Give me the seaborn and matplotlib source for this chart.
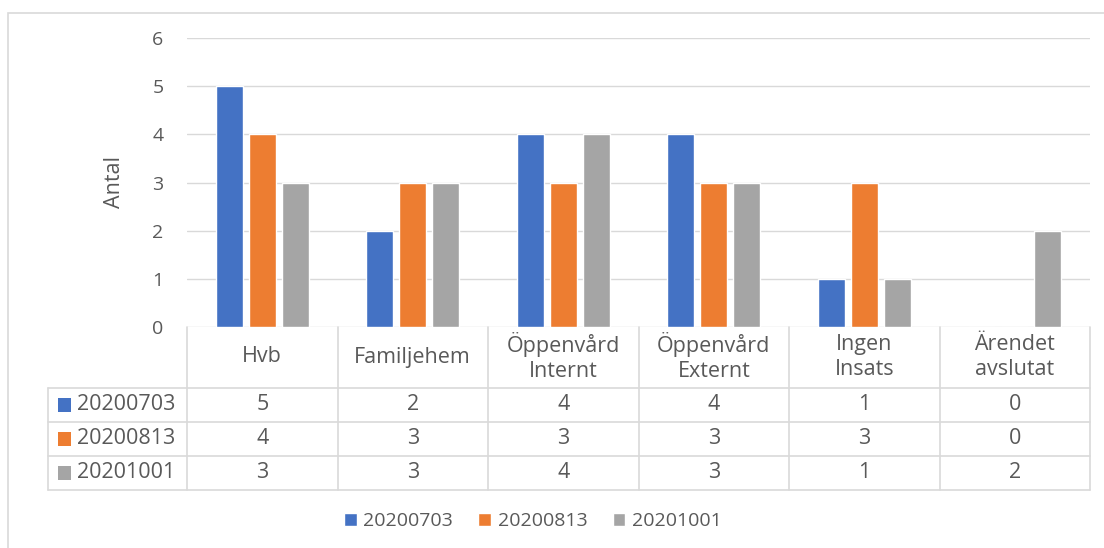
import matplotlib
matplotlib.use("Agg")
import matplotlib.pyplot as plt
import seaborn as sns
import pandas as pd
from matplotlib.lines import Line2D
from matplotlib.patches import Rectangle

categories = ["Hvb", "Familjehem", "Öppenvård\nInternt", "Öppenvård\nExternt", "Ingen\nInsats", "Ärendet\navslutat"]
series_names = ["20200703", "20200813", "20201001"]
s20200703 = [5, 2, 4, 4, 1, 0]
s20200813 = [4, 3, 3, 3, 3, 0]
s20201001 = [3, 3, 4, 3, 1, 2]
series_values = [s20200703, s20200813, s20201001]
colors = ["#4472C4", "#ED7D31", "#A5A5A5"]
yticks = [0, 1, 2, 3, 4, 5, 6]

rows = []
for name, vals in zip(series_names, series_values):
    for c, v in zip(categories, vals):
        rows.append({"Kategori": c, "Serie": name, "Antal": v})
df = pd.DataFrame(rows)

sns.set_theme(style="white")
plt.rcParams["font.family"] = ["Open Sans", "DejaVu Sans"]
TXT = "#595959"
GRID = "#D9D9D9"
FS_TICK = 14
FS_TAB = 15.5
FS_LEG = 14
FS_LAB = 15.5

W, H = 1104, 548
fig = plt.figure(figsize=(W / 100, H / 100), dpi=100)

def fx(px):
    return px / W

def fy(py):
    return 1 - py / H

L, R, T, B = 187, 1090, 38, 327
ax = fig.add_axes([fx(L), fy(B), fx(R) - fx(L), fy(T) - fy(B)])
sns.barplot(data=df, x="Kategori", y="Antal", hue="Serie", order=categories,
            hue_order=series_names, palette=colors, width=0.658, gap=0.18,
            ax=ax, legend=True, saturation=1, errorbar=None)
ax.set_xlim(-0.5, len(categories) - 0.5)
ax.set_ylim(0, 6)
ax.set_yticks(yticks)
ax.set_yticklabels([str(t) for t in yticks], color=TXT, fontsize=FS_TICK)
ax.tick_params(axis="y", length=0, pad=17)
ax.set_xticks([])
ax.set_xlabel("")
ax.set_ylabel("")
ax.yaxis.grid(True, color=GRID, linewidth=1)
ax.set_axisbelow(True)
for s in ax.spines.values():
    s.set_visible(False)

handles, labels = ax.get_legend_handles_labels()
ax.get_legend().remove()

fig.text(fx(115), fy(182), "Antal", rotation=90, ha="center", va="center", color=TXT, fontsize=FS_LAB)

# outer chart border
fig.add_artist(Rectangle((fx(8), fy(600)), fx(1200), fy(13) - fy(600), fill=False,
                         edgecolor=GRID, linewidth=1.2, transform=fig.transFigure))

# data table
col_w = (R - L) / len(categories)
xs = [L + i * col_w for i in range(len(categories) + 1)]
row_y = [B, 388, 422, 456, 490]
tleft = 48
lw = 1.2
for x in xs:
    fig.add_artist(Line2D([fx(x), fx(x)], [fy(B), fy(row_y[-1])], color=GRID, lw=lw, transform=fig.transFigure))
fig.add_artist(Line2D([fx(tleft), fx(tleft)], [fy(row_y[1]), fy(row_y[-1])], color=GRID, lw=lw, transform=fig.transFigure))
for y in row_y[1:]:
    fig.add_artist(Line2D([fx(tleft), fx(R)], [fy(y), fy(y)], color=GRID, lw=lw, transform=fig.transFigure))

for i, c in enumerate(categories):
    cx = (xs[i] + xs[i + 1]) / 2
    fig.text(fx(cx), fy(357), c, ha="center", va="center",
             color=TXT, fontsize=FS_TAB, linespacing=1.3)
for r, (name, vals, col) in enumerate(zip(series_names, series_values, colors)):
    cy = (row_y[r + 1] + row_y[r + 2]) / 2
    fig.add_artist(Rectangle((fx(58), fy(cy + 6.5)), fx(13), fy(cy - 6.5) - fy(cy + 6.5),
                             facecolor=col, edgecolor="none", transform=fig.transFigure))
    fig.text(fx(77), fy(cy), name, ha="left", va="center", color=TXT, fontsize=FS_TAB)
    for i, v in enumerate(vals):
        cx = (xs[i] + xs[i + 1]) / 2
        fig.text(fx(cx), fy(cy), str(v), ha="center", va="center", color=TXT, fontsize=FS_TAB)

leg = fig.legend(handles, labels, loc="center", bbox_to_anchor=(fx(533), fy(521)), ncol=3,
                 frameon=False, fontsize=FS_LEG, handlelength=0.65, handleheight=0.65,
                 handletextpad=0.35, columnspacing=1.3)
for t in leg.get_texts():
    t.set_color(TXT)

fig.savefig("out.png", dpi=100, facecolor="white")
